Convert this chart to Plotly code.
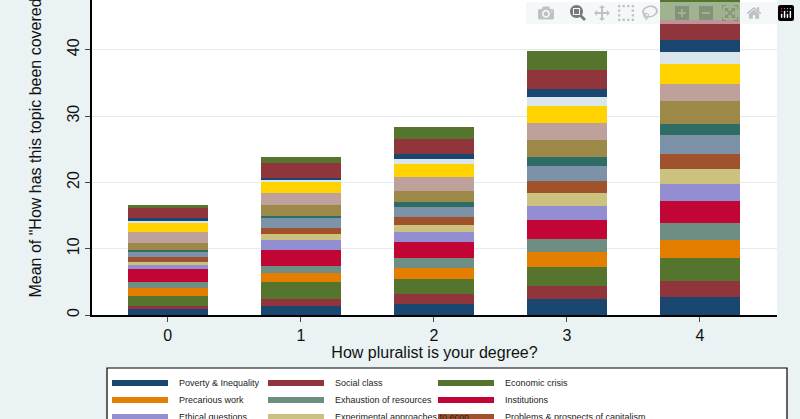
import plotly.graph_objects as go

categories = ["0", "1", "2", "3", "4"]
topics = ["Poverty & Inequality", "Social class", "Economic crisis",
          "Precarious work", "Exhaustion of resources", "Institutions",
          "Ethical questions", "Experimental approaches to econ", "Problems & prospects of capitalism",
          "Topic 10", "Topic 11", "Topic 12", "Topic 13", "Topic 14", "Topic 15",
          "Topic 16", "Topic 17", "Topic 18"]
colors = ["#1a476f", "#90353b", "#55752f", "#e37e00", "#6e8e84", "#c10534",
          "#938dd2", "#cac27e", "#a0522d", "#7b92a8", "#2d6d66", "#9c8847",
          "#bfa19c", "#ffd200", "#d9e6eb", "#1a476f", "#90353b", "#55752f"]
# segment values per topic for degree 0..4
values = [
    [0.9, 1.36, 1.66, 2.37, 2.7],
    [0.5, 1.0, 1.51, 2.01, 2.4],
    [1.5, 2.6, 2.26, 2.91, 3.5],
    [1.1, 1.4, 1.71, 2.22, 2.7],
    [1.0, 1.1, 1.51, 2.01, 2.6],
    [2.0, 2.4, 2.41, 2.82, 3.3],
    [0.5, 1.4, 1.42, 2.11, 2.6],
    [0.5, 0.9, 1.1, 2.01, 2.2],
    [0.7, 1.0, 1.17, 1.81, 2.3],
    [0.8, 1.4, 1.6, 2.22, 2.9],
    [0.3, 0.4, 0.71, 1.31, 1.6],
    [1.1, 1.6, 1.7, 2.6, 3.4],
    [1.6, 1.8, 2.02, 2.5, 2.7],
    [1.4, 1.7, 2.02, 2.6, 3.0],
    [0.3, 0.3, 0.7, 1.4, 1.8],
    [0.5, 0.3, 0.8, 1.2, 1.8],
    [1.4, 2.2, 2.3, 2.8, 3.0],
    [0.5, 0.9, 1.8, 2.9, 4.0],
]

fig = go.Figure()
for name, col, v in zip(topics, colors, values):
    fig.add_trace(go.Bar(x=[0, 1, 2, 3, 4], y=v, name=name, marker=dict(color=col, line=dict(width=0)),
                         width=0.6, showlegend=False))

fig.update_layout(
    barmode="stack", width=800, height=419,
    margin=dict(l=92, r=23, t=0, b=104),
    paper_bgcolor="#eaf2f3", plot_bgcolor="white",
    font=dict(family="Arial, Liberation Sans", color="#111"),
    xaxis=dict(range=[-0.57, 4.58], tickvals=[0, 1, 2, 3, 4], ticktext=categories,
               showline=True, linecolor="black", linewidth=1.5, ticks="outside", ticklen=5,
               tickfont=dict(size=16), showgrid=False, zeroline=False,
               title=dict(text="How pluralist is your degree?", font=dict(size=16), standoff=2)),
    yaxis=dict(range=[0, 47.5], tickvals=[0, 10, 20, 30, 40], tickangle=-90,
               showline=True, linecolor="black", linewidth=1.5, ticks="outside", ticklen=5,
               tickfont=dict(size=16), gridcolor="#e6ecee", zeroline=False),
)
fig.add_annotation(text='Mean of "How has this topic been covered in your degree?"',
                   xref="paper", yref="paper", x=-0.082, y=0.05, xanchor="center", yanchor="bottom",
                   textangle=-90, showarrow=False, font=dict(size=16))

# manual legend box (Stata style)
fig.add_shape(type="rect", xref="paper", yref="paper",
              x0=(107-92)/685, x1=(787-92)/685, y0=(315-368)/315, y1=(315-430)/315,
              line=dict(color="black", width=1.2), fillcolor="white", layer="above")
cols_x = [112, 268, 438]
rows_y = [383, 400, 417]
for i in range(9):
    r, c = divmod(i, 3)
    x0 = cols_x[c]
    yc = rows_y[r]
    fig.add_shape(type="rect", xref="paper", yref="paper",
                  x0=(x0-92)/685, x1=(x0+56-92)/685, y0=(315-yc+3)/315, y1=(315-yc-3)/315,
                  line=dict(width=0), fillcolor=colors[i], layer="above")
    fig.add_annotation(text=topics[i], xref="paper", yref="paper", x=(x0+65-92)/685,
                       y=(315-yc)/315, xanchor="left", yanchor="middle", showarrow=False,
                       font=dict(size=9, color="#222"))

fig.write_html("out.html", post_script="document.body.style.margin='0';document.body.style.overflow='hidden';")
